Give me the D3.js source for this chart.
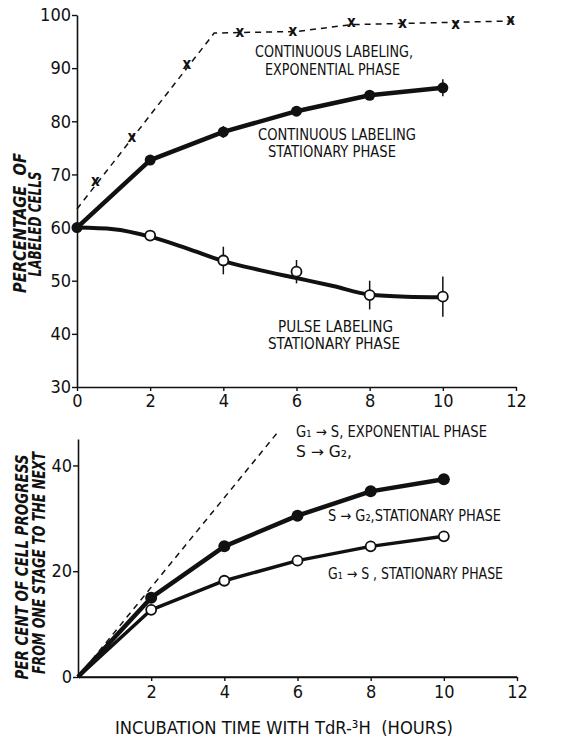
<!DOCTYPE html>
<html><head><meta charset="utf-8">
<script src="https://cdn.jsdelivr.net/npm/d3@7"></script>
<style>
body{margin:0;background:#fff;}
text{font-family:"Liberation Sans Narrow","DejaVu Sans Condensed","Liberation Sans",sans-serif;fill:#111;}
</style></head>
<body>
<svg id="c" width="566" height="738"></svg>
<script>
// ---------- DATA ----------
const hoursTicks = [0,2,4,6,8,10,12];
// top panel
const expX = [0.5,1.5,3,4.45,5.9,7.5,8.9,10.35,11.85];
const expY = [68.6,76.9,90.6,96.7,96.8,98.5,98.4,98.2,98.9];
const expLineX = [0,3.75,6,7.5,12];
const expLineY = [63.5,96.6,96.9,98.2,98.9];
const contStatX = [0,2,4,6,8,10];
const contStatY = [60,72.7,78.0,81.9,84.9,86.3];
const contStatErr = [0,0,1.1,0,0,1.6];
const pulseX = [2,4,6,8,10];
const pulseY = [58.5,53.8,51.7,47.3,47.0];
const pulseErr = [0,2.6,2.2,2.7,3.8];
const pulseLineX = [0,1,2,3,4,5,6,7,8,9,10];
const pulseLineY = [60,59.7,58.3,56.1,53.7,52.0,50.5,49.0,47.4,47.0,46.9];
const topYTicks = [30,40,50,60,70,80,90,100];
// bottom panel
const sg2X = [0,2,4,6,8,10];
const sg2Y = [0,15.0,24.7,30.5,35.1,37.4];
const g1sX = [0,2,4,6,8,10];
const g1sY = [0,12.7,18.2,22.0,24.7,26.6];
const expProgX = [0,5.45];
const expProgY = [0,46.2];
const botYTicks = [0,20,40];
const botXTicks = [2,4,6,8,10,12];

// ---------- DRAW ----------
const svg = d3.select("#c");
const ink = "#111";

const xT = d3.scaleLinear().domain([0,12]).range([77,516]);
const yT = d3.scaleLinear().domain([30,100]).range([387,15]);
const xB = d3.scaleLinear().domain([0,12]).range([78,517]);
const yB = d3.scaleLinear().domain([0,45]).range([677,439]);

function styleAxis(g, fs){
  g.selectAll("path.domain").attr("stroke",ink).attr("stroke-width",1.6);
  g.selectAll(".tick line").attr("stroke",ink).attr("stroke-width",1.4);
  g.selectAll(".tick text").attr("font-size",fs).attr("fill",ink)
    .style("font-family","'Liberation Sans Narrow','DejaVu Sans Condensed',sans-serif");
}
// top axes
svg.append("g").attr("transform","translate(77,0)")
  .call(d3.axisLeft(yT).tickValues(topYTicks).tickSize(5).tickSizeOuter(0).tickPadding(1))
  .call(g=>styleAxis(g,18));
svg.append("g").attr("transform","translate(0,387)")
  .call(d3.axisBottom(xT).tickValues(hoursTicks).tickSize(4).tickSizeOuter(0).tickPadding(3))
  .call(g=>styleAxis(g,18));
// bottom axes
svg.append("g").attr("transform","translate(78,0)")
  .call(d3.axisLeft(yB).tickValues(botYTicks).tickSize(5).tickSizeOuter(0).tickPadding(1))
  .call(g=>styleAxis(g,18));
svg.append("g").attr("transform","translate(0,677)")
  .call(d3.axisBottom(xB).tickValues(botXTicks).tickSize(4).tickSizeOuter(0).tickPadding(4))
  .call(g=>styleAxis(g,18));
svg.append("line").attr("x1",xB(0)).attr("x2",xB(12)).attr("y1",677).attr("y2",677).attr("stroke",ink).attr("stroke-width",1.6);

const zip = (xs,ys)=>xs.map((x,i)=>[x,ys[i]]);

// top: exponential dashed
svg.append("path").datum(zip(expLineX,expLineY))
  .attr("d",d3.line().x(d=>xT(d[0])).y(d=>yT(d[1])))
  .attr("fill","none").attr("stroke",ink).attr("stroke-width",1.5).attr("stroke-dasharray","6,5");
svg.selectAll("text.xm").data(zip(expX,expY)).join("text").attr("class","xm")
  .attr("x",d=>xT(d[0])).attr("y",d=>yT(d[1])+4).attr("text-anchor","middle")
  .attr("font-size",15).attr("font-weight","bold").text("x");

// top: continuous stationary
svg.append("path").datum(zip(contStatX,contStatY))
  .attr("d",d3.line().x(d=>xT(d[0])).y(d=>yT(d[1])))
  .attr("fill","none").attr("stroke",ink).attr("stroke-width",4.5).attr("stroke-linejoin","round");
// pulse
svg.append("path").datum(zip(pulseLineX,pulseLineY))
  .attr("d",d3.line().x(d=>xT(d[0])).y(d=>yT(d[1])).curve(d3.curveMonotoneX))
  .attr("fill","none").attr("stroke",ink).attr("stroke-width",4);
// error bars
svg.selectAll("line.e1").data(zip(contStatX,contStatY).map((d,i)=>[d[0],d[1],contStatErr[i]]).filter(d=>d[2]>0))
  .join("line").attr("x1",d=>xT(d[0])).attr("x2",d=>xT(d[0]))
  .attr("y1",d=>yT(d[1]-d[2])).attr("y2",d=>yT(d[1]+d[2])).attr("stroke",ink).attr("stroke-width",1.5);
svg.selectAll("line.e2").data(zip(pulseX,pulseY).map((d,i)=>[d[0],d[1],pulseErr[i]]).filter(d=>d[2]>0))
  .join("line").attr("x1",d=>xT(d[0])).attr("x2",d=>xT(d[0]))
  .attr("y1",d=>yT(d[1]-d[2])).attr("y2",d=>yT(d[1]+d[2])).attr("stroke",ink).attr("stroke-width",1.5);
svg.selectAll("circle.f1").data(zip(contStatX,contStatY)).join("circle")
  .attr("cx",d=>xT(d[0])).attr("cy",d=>yT(d[1])).attr("r",5.5).attr("fill",ink);
svg.selectAll("circle.o1").data(zip(pulseX,pulseY)).join("circle")
  .attr("cx",d=>xT(d[0])).attr("cy",d=>yT(d[1])).attr("r",5).attr("fill","#fff").attr("stroke",ink).attr("stroke-width",1.8);

// bottom lines
svg.append("path").datum(zip(expProgX,expProgY))
  .attr("d",d3.line().x(d=>xB(d[0])).y(d=>yB(d[1])))
  .attr("fill","none").attr("stroke",ink).attr("stroke-width",1.5).attr("stroke-dasharray","6,5");
svg.append("path").datum(zip(sg2X,sg2Y))
  .attr("d",d3.line().x(d=>xB(d[0])).y(d=>yB(d[1])))
  .attr("fill","none").attr("stroke",ink).attr("stroke-width",4.5).attr("stroke-linejoin","round");
svg.append("path").datum(zip(g1sX,g1sY))
  .attr("d",d3.line().x(d=>xB(d[0])).y(d=>yB(d[1])))
  .attr("fill","none").attr("stroke",ink).attr("stroke-width",3.5).attr("stroke-linejoin","round");
svg.selectAll("circle.f2").data(zip(sg2X,sg2Y).slice(1)).join("circle")
  .attr("cx",d=>xB(d[0])).attr("cy",d=>yB(d[1])).attr("r",6).attr("fill",ink);
svg.selectAll("circle.o2").data(zip(g1sX,g1sY).slice(1)).join("circle")
  .attr("cx",d=>xB(d[0])).attr("cy",d=>yB(d[1])).attr("r",5).attr("fill","#fff").attr("stroke",ink).attr("stroke-width",1.8);

// labels (left x, baseline y, fitted width)
function label(x,y,w,t){
  return svg.append("text").attr("x",x).attr("y",y).attr("font-size",15)
    .attr("textLength",w).attr("lengthAdjust","spacingAndGlyphs").text(t);
}
label(255,57,158,"CONTINUOUS LABELING,");
label(265,75,135,"EXPONENTIAL PHASE");
label(258,140,158,"CONTINUOUS LABELING");
label(268,157,128,"STATIONARY PHASE");
label(278,332,115,"PULSE LABELING");
label(268,349,132,"STATIONARY PHASE");
label(296,437,191,"G\u2081 \u2192 S, EXPONENTIAL PHASE");
label(296,457,56,"S \u2192 G\u2082,");
label(328,521,173,"S \u2192 G\u2082,STATIONARY PHASE");
label(328,579,175,"G\u2081 \u2192 S , STATIONARY PHASE");

// axis titles
svg.append("text").attr("x",115).attr("y",734).attr("font-size",18)
  .attr("textLength",338).attr("lengthAdjust","spacingAndGlyphs")
  .text("INCUBATION TIME WITH TdR-\u00b3H\u00a0\u00a0(HOURS)");
function ylab(x,y,w,t){
  svg.append("text").attr("transform",`translate(${x},${y}) rotate(-90)`).attr("text-anchor","middle")
    .attr("font-size",17).attr("font-style","italic").attr("font-weight","bold")
    .attr("textLength",w).attr("lengthAdjust","spacingAndGlyphs").text(t);
}
ylab(26,223,140,"PERCENTAGE\u00a0\u00a0OF");
ylab(41,224,105,"LABELED CELLS");
ylab(28,567,225,"PER CENT OF CELL PROGRESS");
ylab(45,563,222,"FROM ONE STAGE TO THE NEXT");
</script>
</body></html>
